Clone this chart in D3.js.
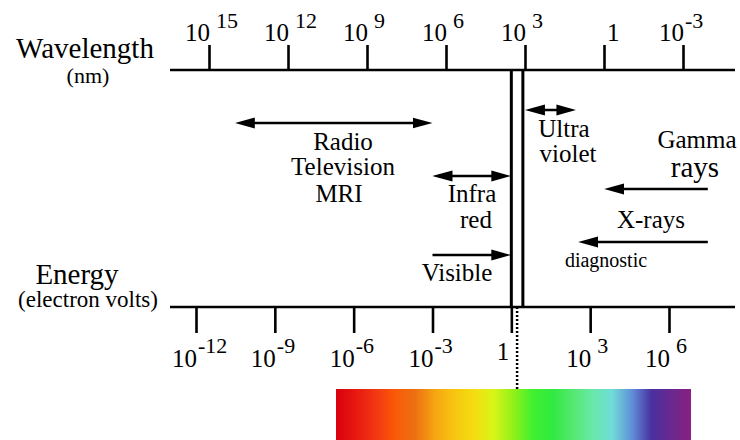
<!DOCTYPE html>
<html lang="en">
<head>
<meta charset="UTF-8">
<title>Electromagnetic spectrum</title>
<script src="https://d3js.org/d3.v7.min.js"></script>
<style>
  body { margin: 0; background: #fff; }
</style>
</head>
<body>
<script>
    // tick marks, as powers of ten
    var wavelengthExponents = [15, 12, 9, 6, 3, 0, -3];   // nm
    var energyExponents = [-12, -9, -6, -3, 0, 3, 6];     // eV

    // bands drawn as arrows, in electron volts
    var bandNames = ["Radio", "Infrared", "Visible", "Ultraviolet", "Gamma", "X-rays"];
    var bandFrom = [3e-11, 1e-3, 1e-3, 3.3, 3e7, 3e7];
    var bandTo = [1e-3, 1, 1, 300, 3.4e3, 350];
    var bandBothHeads = [true, true, false, true, false, false];

    // edges of the visible window (eV)
    var visibleEdges = [1, 2.75];

    // colours of the visible strip, left to right
    var spectrumColors = ["#d8000e", "#e81810", "#f23612", "#fa5a08", "#ec7010", "#f5a512",
        "#f7c510", "#f5dd10", "#d8f518", "#90f018", "#40f030", "#30ea40", "#55e870",
        "#68e8a8", "#70dcd8", "#6090d8", "#4a30a0", "#6a2890", "#882080"];

    var width = 740, height = 440;
    var topY = 70, bottomY = 307;
    var rowY = [123, 176, 255, 110, 189, 242];
    var serif = "'Liberation Serif', 'DejaVu Serif', 'Noto Serif', Tinos, 'Nimbus Roman', FreeSerif, 'Times New Roman', Times, Georgia, serif";

    var svg = d3.select("body").append("svg")
        .attr("width", width)
        .attr("height", height)
        .style("font-family", serif);

    var wave = d3.scaleLog().domain([1e15, 1e-3]).range([209, 683]);
    var energy = d3.scaleLog().domain([1e-12, 1e6]).range([196, 669]);

    var defs = svg.append("defs");
    defs.append("marker")
        .attr("id", "head")
        .attr("viewBox", "0 -6 20 12")
        .attr("refX", 10)
        .attr("refY", 0)
        .attr("markerWidth", 20)
        .attr("markerHeight", 12)
        .attr("markerUnits", "userSpaceOnUse")
        .attr("orient", "auto-start-reverse")
        .append("path")
        .attr("d", "M0,-5.5L20,0L0,5.5Z")
        .attr("fill", "#000");

    var grad = defs.append("linearGradient").attr("id", "spectrum");
    grad.selectAll("stop")
        .data(spectrumColors)
        .enter().append("stop")
        .attr("offset", function(d, i) { return i / (spectrumColors.length - 1); })
        .attr("stop-color", function(d) { return d; });

    // axis lines
    [topY, bottomY].forEach(function(y) {
        svg.append("line")
            .attr("x1", 170).attr("x2", 735)
            .attr("y1", y).attr("y2", y)
            .attr("stroke", "#000").attr("stroke-width", 2.6);
    });

    // ticks
    var topAxis = svg.append("g")
        .attr("transform", "translate(0," + topY + ")")
        .call(d3.axisTop(wave)
            .tickValues(wavelengthExponents.map(function(e) { return Math.pow(10, e); }))
            .tickSize(25).tickFormat(""));
    var bottomAxis = svg.append("g")
        .attr("transform", "translate(0," + bottomY + ")")
        .call(d3.axisBottom(energy)
            .tickValues(energyExponents.map(function(e) { return Math.pow(10, e); }))
            .tickSize(26).tickFormat(""));
    [topAxis, bottomAxis].forEach(function(g) {
        g.select(".domain").remove();
        g.selectAll(".tick line").attr("stroke", "#000").attr("stroke-width", 2.6);
    });

    function label(x, y, str, size, anchor) {
        return svg.append("text")
            .attr("x", x).attr("y", y)
            .attr("text-anchor", anchor || "middle")
            .attr("font-size", size)
            .attr("font-family", serif)
            .attr("fill", "#000")
            .text(str);
    }

    // power-of-ten labels
    function powerLabel(x, e, baseY, expY, oneY, oneRight) {
        if (e === 0) {
            label(oneRight ? x - 2 : x + 3, oneY, "1", 25, oneRight ? "end" : "start");
            return;
        }
        label(x + 1, baseY, "10", 25, "end");
        label(e < 0 ? x + 2 : x + 7, expY, e, 22, "start");
    }
    wavelengthExponents.forEach(function(e) {
        powerLabel(wave(Math.pow(10, e)), e, 41, 28, 41, false);
    });
    energyExponents.forEach(function(e) {
        powerLabel(energy(Math.pow(10, e)), e, 367, 353, 360, true);
    });

    // visible window: two vertical lines and the dotted guide
    visibleEdges.forEach(function(v) {
        svg.append("line")
            .attr("x1", energy(v)).attr("x2", energy(v))
            .attr("y1", topY).attr("y2", bottomY)
            .attr("stroke", "#000").attr("stroke-width", 3);
    });
    var mid = Math.sqrt(visibleEdges[0] * visibleEdges[1]);
    svg.append("line")
        .attr("x1", energy(mid)).attr("x2", energy(mid))
        .attr("y1", bottomY).attr("y2", 389)
        .attr("stroke", "#000").attr("stroke-width", 2.5)
        .attr("stroke-dasharray", "2,2");

    svg.append("rect")
        .attr("x", 336).attr("y", 389)
        .attr("width", 355).attr("height", 51)
        .attr("fill", "url(#spectrum)");

    // band arrows
    bandNames.forEach(function(name, i) {
        var x1 = energy(bandFrom[i]), x2 = energy(bandTo[i]);
        var dir = x2 > x1 ? 1 : -1;
        svg.append("line")
            .attr("x1", bandBothHeads[i] ? x1 + 10 * dir : x1)
            .attr("x2", x2 - 10 * dir)
            .attr("y1", rowY[i]).attr("y2", rowY[i])
            .attr("stroke", "#000").attr("stroke-width", 2.6)
            .attr("marker-end", "url(#head)")
            .attr("marker-start", bandBothHeads[i] ? "url(#head)" : null);
    });

    label(85, 58, "Wavelength", 29);
    label(88, 83, "(nm)", 22);
    label(77, 284, "Energy", 29);
    label(88, 307, "(electron volts)", 23);

    label(343, 150, "Radio", 25);
    label(343, 175, "Television", 25);
    label(339, 202, "MRI", 25);
    label(472, 202, "Infra", 25);
    label(476, 228, "red", 25);
    label(457, 281, "Visible", 25);
    label(564, 137, "Ultra", 25);
    label(568, 162, "violet", 25);
    label(697, 148, "Gamma", 25);
    label(695, 177, "rays", 29);
    label(651, 228, "X-rays", 25);
    label(606, 267, "diagnostic", 20);
</script>
</body>
</html>
